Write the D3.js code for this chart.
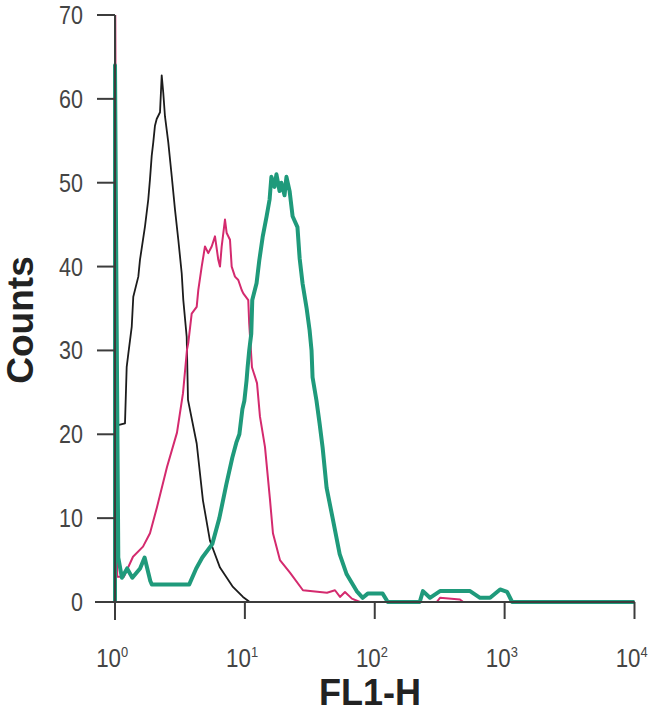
<!DOCTYPE html>
<html>
<head>
<meta charset="utf-8">
<script src="https://cdn.jsdelivr.net/npm/d3@7/dist/d3.min.js"></script>
<style>
  html, body { margin: 0; padding: 0; background: #fff; }
  svg { display: block; }
  text { font-family: "Liberation Sans", Arial, sans-serif; }
</style>
</head>
<body>
<svg id="chart" width="650" height="724"></svg>
<script>
// ---- data (FL1-H intensity, counts) ----
const blackFL = [1, 1, 1.194, 1.23, 1.266, 1.345, 1.383, 1.512, 1.557, 1.702, 1.804, 1.859, 1.917, 1.971, 2.031, 2.094, 2.221, 2.289, 2.354, 2.426, 2.572, 2.733, 2.897, 3.072, 3.263, 3.357, 3.565, 3.648, 4.256, 4.757, 5.386, 6.432, 8.092, 9.67, 10.9, 10000];
const blackCounts = [0, 21, 21.3, 28, 29.6, 32.8, 36.4, 38.8, 40.8, 44.8, 48, 50.4, 53.2, 54.8, 56.8, 57.6, 58.4, 62.8, 60.7, 57.9, 54.8, 50.8, 46.8, 43.2, 39.2, 36, 31.6, 24.1, 18.9, 12.1, 7.3, 4.1, 1.8, 0.6, 0, 0];

const pinkFL = [1, 1, 1.04, 1.17, 1.376, 1.643, 1.859, 2.105, 2.514, 3.001, 3.339, 3.584, 3.667, 3.895, 4.256, 4.378, 4.651, 4.93, 5.226, 5.552, 5.886, 6.241, 6.432, 6.629, 7.028, 7.243, 7.68, 7.915, 8.39, 8.896, 9.45, 9.721, 10.62, 10.8, 11.34, 12.4, 13.07, 14.28, 15.61, 16.45, 18.62, 22.24, 28.0, 42.9, 49.4, 54.0, 59.0, 66.7, 76.9, 300, 318, 453, 480, 10000];
const pinkCounts = [0, 80, 3, 3, 5.4, 6.6, 8.2, 11.3, 16.1, 20.2, 24.9, 30.1, 30.9, 34.4, 35.2, 37.2, 40, 42.4, 41.6, 42.4, 43.6, 40.8, 40, 42.4, 45.6, 44, 43.2, 40, 38.8, 38.4, 37.2, 36.8, 36, 33.2, 28, 26.1, 22.1, 18.5, 12.2, 8.2, 5, 3.5, 1.4, 1.1, 1.4, 0.6, 1.2, 0.4, 0, 0, 0.5, 0.3, 0, 0];

const greenFL = [1, 1, 1.03, 1.06, 1.13, 1.24, 1.36, 1.56, 1.69, 1.87, 1.92, 3.73, 4.22, 4.70, 5.61, 6.36, 7.19, 8.00, 8.59, 9.07, 9.57, 9.91, 10.3, 10.5, 10.8, 11.2, 11.4, 12.3, 12.9, 13.7, 14.7, 15.5, 16.0, 16.9, 17.5, 18.5, 19.1, 20.2, 20.9, 22.1, 23.3, 25.4, 26.4, 27.8, 29.9, 31.5, 32.6, 33.2, 35.6, 37.6, 39.7, 42.6, 47.4, 53.7, 60.8, 72.6, 80.8, 88.3, 115, 126, 222, 235, 266, 318, 542, 647, 773, 923, 1045, 1143, 10000];
const greenCounts = [0, 64, 33, 5.3, 2.9, 4, 2.9, 4, 5.3, 2.5, 2.1, 2.1, 4, 5.3, 6.9, 10, 14, 17.2, 19, 20, 23, 24, 26.4, 28, 30, 32, 36, 38, 40.7, 43.5, 46, 48, 50.7, 49.5, 51, 49, 50, 48.5, 50.7, 49, 46, 44.7, 41, 38, 35, 32.4, 30, 26.8, 24, 21.3, 18.4, 13.6, 10, 5.7, 3.3, 1.3, 0.5, 1, 1, 0, 0, 1.3, 0.5, 1.3, 1.3, 0.5, 0.5, 1.5, 1.2, 0, 0];

const yTicks = [0, 10, 20, 30, 40, 50, 60, 70];
const xTicks = [1, 10, 100, 1000, 10000];
const xTickExp = ["0", "1", "2", "3", "4"];
const xTitle = "FL1-H";
const yTitle = "Counts";

// ---- drawing ----
const svg = d3.select("#chart");
const x = d3.scaleLog().domain([1, 10000]).range([115, 634.5]);
const y = d3.scaleLinear().domain([0, 70]).range([602, 15]);
const axisColor = "#3c3c3c";

svg.append("defs").append("clipPath").attr("id", "plotclip")
  .append("rect").attr("x", 110).attr("y", y(70)).attr("width", 535).attr("height", 600);

const plot = svg.append("g").attr("clip-path", "url(#plotclip)");
const line = d3.line().x(d => x(d[0])).y(d => y(d[1])).curve(d3.curveLinear);
const zip = (a, b) => a.map((v, i) => [v, b[i]]);

// axes (under the series)
const ax = svg.append("g");
ax.append("line").attr("x1", x(1)).attr("x2", x(1)).attr("y1", y(70)).attr("y2", 620)
  .attr("stroke", axisColor).attr("stroke-width", 2);
ax.append("line").attr("x1", 95).attr("x2", x(10000)).attr("y1", y(0)).attr("y2", y(0))
  .attr("stroke", axisColor).attr("stroke-width", 2);
yTicks.forEach(t => {
  ax.append("line").attr("x1", 97).attr("x2", x(1)).attr("y1", y(t)).attr("y2", y(t))
    .attr("stroke", axisColor).attr("stroke-width", 2);
  ax.append("text").attr("transform", `translate(83,${y(t)}) scale(0.86,1)`)
    .attr("text-anchor", "end").attr("dy", "0.36em")
    .attr("font-size", 25).attr("fill", "#444").text(t);
});
xTicks.forEach((t, i) => {
  ax.append("line").attr("x1", x(t)).attr("x2", x(t)).attr("y1", y(0)).attr("y2", 619)
    .attr("stroke", axisColor).attr("stroke-width", 2);
  const g = ax.append("g").attr("transform", `translate(${x(t) + 6},667) scale(0.86,1)`);
  g.append("text").attr("text-anchor", "end").attr("font-size", 26).attr("fill", "#444").text("10");
  g.append("text").attr("x", 0).attr("y", -10).attr("font-size", 15).attr("fill", "#444").text(xTickExp[i]);
});

plot.append("path").datum(zip(blackFL, blackCounts)).attr("d", line)
  .attr("fill", "none").attr("stroke", "#1c1c1c").attr("stroke-width", 1.8).attr("stroke-linejoin", "round");
plot.append("path").datum(zip(pinkFL, pinkCounts)).attr("d", line)
  .attr("fill", "none").attr("stroke", "#d42a6e").attr("stroke-width", 2).attr("stroke-linejoin", "round");
plot.append("path").datum(zip(greenFL, greenCounts)).attr("d", line)
  .attr("fill", "none").attr("stroke", "#1f9a7b").attr("stroke-width", 4).attr("stroke-linejoin", "round");

// titles
svg.append("text").attr("x", 370).attr("y", 705).attr("text-anchor", "middle")
  .attr("font-size", 36).attr("font-weight", "bold").attr("fill", "#222").text(xTitle);
svg.append("text").attr("transform", "translate(33,320) rotate(-90)").attr("text-anchor", "middle")
  .attr("font-size", 37).attr("font-weight", "bold").attr("fill", "#222").text(yTitle);
</script>
</body>
</html>
